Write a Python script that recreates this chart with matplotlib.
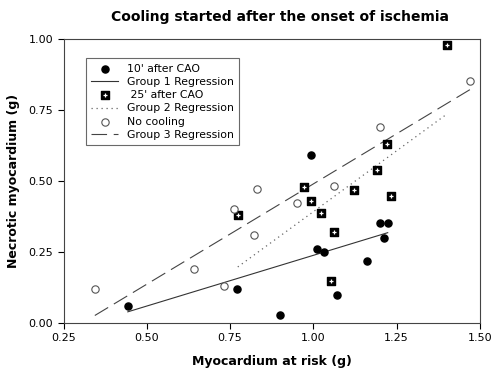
import numpy as np
import matplotlib
matplotlib.use("Agg")
import matplotlib.pyplot as plt

# 10' after CAO
g1_x = np.array([0.443, 0.772, 0.901, 0.992, 1.012, 1.032, 1.071, 1.162, 1.201, 1.223, 1.211])
g1_y = np.array([0.060, 0.120, 0.029, 0.591, 0.260, 0.249, 0.099, 0.220, 0.351, 0.351, 0.300])
# 25' after CAO
g2_x = np.array([1.401, 0.773, 0.972, 0.993, 1.022, 1.062, 1.052, 1.122, 1.192, 1.222, 1.232])
g2_y = np.array([0.980, 0.379, 0.480, 0.429, 0.389, 0.319, 0.149, 0.468, 0.539, 0.629, 0.449])
# no cooling
g3_x = np.array([0.344, 0.643, 0.732, 0.762, 0.822, 0.832, 0.952, 1.062, 1.201, 1.470])
g3_y = np.array([0.120, 0.189, 0.129, 0.401, 0.311, 0.472, 0.421, 0.481, 0.691, 0.852])

xticks = [0.25, 0.50, 0.75, 1.00, 1.25, 1.50]
yticks = [0.00, 0.25, 0.50, 0.75, 1.00]

fig = plt.figure(figsize=(5, 3.8), dpi=100)
ax = fig.add_axes([0.127, 0.15, 0.833, 0.747])


def fit(x, y):
    k, b = np.polyfit(x, y, 1)
    xs = np.array([x.min(), x.max()])
    return xs, k * xs + b


h1 = ax.scatter(g1_x, g1_y, s=26, c="black", zorder=3)
xs, ys = fit(g1_x, g1_y)
l1, = ax.plot(xs, ys, color="#333333", lw=0.8)

h2a = ax.scatter(g2_x, g2_y, s=30, marker="s", c="black", zorder=3)
h2b = ax.scatter(g2_x, g2_y, s=11, marker="+", c="white", linewidths=0.9, zorder=4)
xs, ys = fit(g2_x, g2_y)
l2, = ax.plot(xs, ys, color="#666666", lw=0.9, ls=(0, (1, 3)))

h3 = ax.scatter(g3_x, g3_y, s=28, facecolors="white", edgecolors="#555555", linewidths=0.8, zorder=3)
xs, ys = fit(g3_x, g3_y)
l3, = ax.plot(xs, ys, color="#444444", lw=0.8, ls=(0, (14, 6)))

ax.set_xlim(0.25, 1.50)
ax.set_ylim(0, 1.0)
ax.set_xticks(xticks)
ax.set_yticks(yticks)
ax.set_xticklabels([f"{v:.2f}" for v in xticks])
ax.set_yticklabels([f"{v:.2f}" for v in yticks])
ax.tick_params(direction="out", length=4, labelsize=8)
for sp in ax.spines.values():
    sp.set_linewidth(0.8)
    sp.set_color("#444444")

ax.set_xlabel("Myocardium at risk (g)", fontsize=9, fontweight="bold", labelpad=8)
ax.set_ylabel("Necrotic myocardium (g)", fontsize=9, fontweight="bold", labelpad=6)
fig.suptitle("Cooling started after the onset of ischemia", x=0.56, y=0.975, fontsize=10, fontweight="bold")

leg = ax.legend([h1, l1, (h2a, h2b), l2, h3, l3],
                ["10' after CAO", "Group 1 Regression", " 25' after CAO",
                 "Group 2 Regression", "No cooling", "Group 3 Regression"],
                loc="upper left", bbox_to_anchor=(0.054, 0.933), borderaxespad=0,
                fontsize=7.8, frameon=True, fancybox=False, edgecolor="#444444",
                handlelength=2.5, labelspacing=0.3, borderpad=0.5, scatterpoints=1)
leg.get_frame().set_linewidth(0.8)

fig.savefig("out.png")
